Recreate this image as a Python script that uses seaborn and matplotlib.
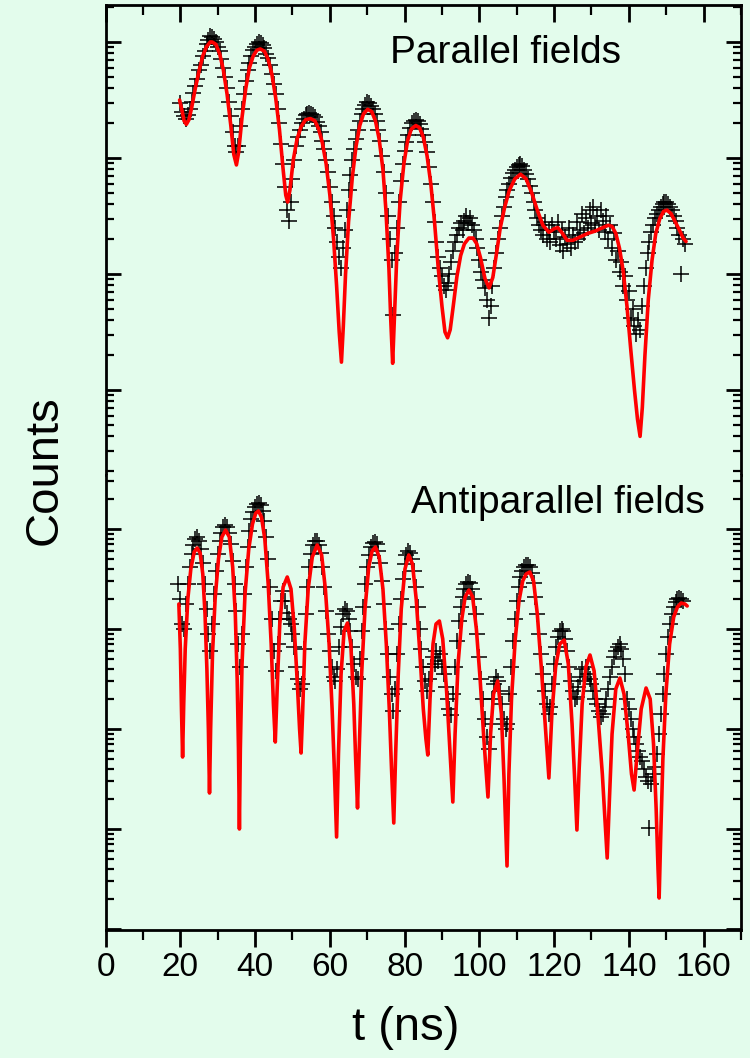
import numpy as np
import pandas as pd
import matplotlib
matplotlib.use("Agg")
import matplotlib.pyplot as plt
import seaborn as sns
from matplotlib.ticker import LogLocator, NullFormatter, MultipleLocator

# ---------------- data (log10 of counts) ----------------
# Parallel fields: measured points, channel start / spacing (ns)
par_t_start = 20.0
par_t_step = 0.5
par_log = [
    3.47, 3.40, 3.36, 3.34, 3.37, 3.42, 3.48, 3.56, 3.62, 3.68,
    3.76, 3.80, 3.88, 3.92, 3.98, 4.02, 4.05, 4.04, 4.03, 4.00,
    3.96, 3.92, 3.85, 3.78, 3.70, 3.60, 3.48, 3.36, 3.22, 3.10,
    3.05, 3.10, 3.28, 3.42, 3.55, 3.66, 3.76, 3.82, 3.88, 3.93,
    3.96, 3.98, 4.00, 3.99, 3.97, 3.95, 3.90, 3.86, 3.80, 3.72,
    3.64, 3.55, 3.42, 3.30, 3.12, 2.95, 2.75, 2.55, 2.46, 2.62,
    2.82, 2.98, 3.10, 3.18, 3.24, 3.30, 3.34, 3.37, 3.38, 3.39,
    3.38, 3.37, 3.35, 3.31, 3.28, 3.22, 3.15, 3.08, 2.98, 2.88,
    2.75, 2.62, 2.50, 2.40, 2.28, 2.15, 2.05, 2.22, 2.38, 2.55,
    2.72, 2.85, 2.98, 3.08, 3.16, 3.24, 3.32, 3.38, 3.42, 3.46,
    3.48, 3.47, 3.45, 3.42, 3.38, 3.32, 3.24, 3.15, 3.02, 2.88,
    2.70, 2.50, 2.30, 2.12, 1.65, 2.18, 2.40, 2.62, 2.80, 2.95,
    3.06, 3.14, 3.20, 3.26, 3.30, 3.32, 3.33, 3.32, 3.29, 3.25,
    3.20, 3.14, 3.05, 2.92, 2.78, 2.62, 2.45, 2.28, 2.15, 2.05,
    1.98, 1.90, 1.86, 1.92, 2.00, 2.10, 2.20, 2.28, 2.34, 2.40,
    2.44, 2.38, 2.46, 2.50, 2.44, 2.48, 2.42, 2.38, 2.30, 2.22,
    2.12, 2.02, 1.95, 1.88, 1.78, 1.62, 1.72, 1.90, 2.05, 2.18,
    2.30, 2.40, 2.50, 2.58, 2.66, 2.72, 2.78, 2.83, 2.87, 2.90,
    2.92, 2.94, 2.95, 2.93, 2.90, 2.86, 2.82, 2.76, 2.70, 2.62,
    2.55, 2.48, 2.42, 2.38, 2.34, 2.45, 2.30, 2.38, 2.28, 2.42,
    2.36, 2.30, 2.45, 2.25, 2.38, 2.20, 2.32, 2.26, 2.40, 2.22,
    2.34, 2.28, 2.45, 2.30, 2.38, 2.52, 2.35, 2.48, 2.40, 2.55,
    2.44, 2.58, 2.42, 2.50, 2.38, 2.55, 2.46, 2.36, 2.50, 2.30,
    2.42, 2.22, 2.35, 2.12, 2.20, 2.02, 2.10, 1.90, 1.98, 1.78,
    1.85, 1.62, 1.70, 1.55, 1.48, 1.60, 1.52, 1.72, 1.90, 2.05,
    2.18, 2.28, 2.36, 2.42, 2.48, 2.52, 2.55, 2.58, 2.60, 2.62,
    2.62, 2.60, 2.58, 2.55, 2.50, 2.46, 2.40, 2.34, 2.00, 2.30,
    2.26,
]

# Parallel fields: fitted curve
par_fit_t = [
    19.8, 20.5, 21.0, 21.6, 22.3, 23.0, 24.0, 25.0, 26.0, 27.0, 28.0, 28.5,
    29.5, 30.5, 31.5, 32.5, 33.5, 34.3, 35.0, 35.6, 36.5, 37.5, 38.5, 39.5,
    40.5, 41.4, 42.5, 43.5, 44.5, 45.5, 46.5, 47.5, 48.2, 48.7, 49.3, 50.2,
    51.2, 52.3, 53.5, 54.8, 56.0, 57.0, 58.0, 59.0, 60.0, 61.0, 61.8, 62.5,
    63.1, 63.6, 64.2, 65.0, 66.0, 67.0, 68.0, 69.0, 70.1, 71.2, 72.2, 73.2,
    74.2, 75.0, 75.8, 76.3, 76.8, 77.3, 77.9, 78.8, 79.8, 80.8, 81.8, 83.0,
    84.0, 85.0, 86.0, 87.0, 88.0, 89.0, 90.0, 90.8, 91.5, 92.2, 93.0, 94.0,
    95.0, 96.0, 97.2, 98.3, 99.3, 100.3, 101.5, 102.6, 103.6, 104.6, 105.6,
    106.8, 108.0, 109.5, 111.0, 112.5, 114.0, 115.5, 117.0, 118.6, 120.0,
    121.0, 122.0, 123.5, 125.0, 127.0, 129.0, 131.0, 133.0, 134.5, 135.5,
    136.5, 137.5, 138.5, 139.5, 140.5, 141.5, 142.3, 143.0, 143.6, 144.3,
    145.2, 146.2, 147.2, 148.3, 149.3, 150.2, 151.3, 152.4, 153.5, 154.5,
    155.3,
]
par_fit_log = [
    3.50, 3.40, 3.32, 3.29, 3.33, 3.43, 3.60, 3.75, 3.88, 3.96, 4.00, 4.00,
    3.98, 3.90, 3.76, 3.55, 3.28, 3.03, 2.94, 3.05, 3.35, 3.60, 3.78, 3.88,
    3.93, 3.94, 3.92, 3.85, 3.72, 3.52, 3.25, 2.90, 2.68, 2.62, 2.72, 2.98,
    3.16, 3.27, 3.33, 3.34, 3.32, 3.25, 3.13, 2.95, 2.68, 2.30, 1.90, 1.50,
    1.24, 1.55, 2.00, 2.45, 2.83, 3.10, 3.28, 3.38, 3.42, 3.40, 3.32, 3.16,
    2.90, 2.55, 2.05, 1.60, 1.23, 1.65, 2.15, 2.63, 2.95, 3.15, 3.25, 3.28,
    3.26, 3.18, 3.02, 2.78, 2.45, 2.05, 1.72, 1.50, 1.45, 1.52, 1.72, 1.98,
    2.16, 2.26, 2.31, 2.31, 2.26, 2.14, 1.96, 1.88, 1.97, 2.18, 2.40,
    2.58, 2.72, 2.82, 2.86, 2.82, 2.70, 2.55, 2.42, 2.36, 2.39,
    2.40, 2.36, 2.29, 2.29, 2.32, 2.35, 2.37, 2.40, 2.42, 2.41,
    2.35, 2.22, 2.02, 1.72, 1.35, 1.00, 0.75, 0.60, 0.85, 1.30,
    1.78, 2.12, 2.35, 2.48, 2.54, 2.55, 2.52, 2.45, 2.38, 2.31,
    2.28,
]

# Antiparallel fields: measured points
anti_t_start = 19.5
anti_t_step = 0.5
anti_log = [
    3.45, 3.30, 3.05, 3.00, 3.25, 3.45, 3.62, 3.75, 3.84, 3.90,
    3.92, 3.88, 3.80, 3.66, 3.45, 3.20, 2.95, 2.78, 3.05, 3.35,
    3.58, 3.75, 3.88, 3.96, 4.02, 4.04, 4.02, 3.96, 3.85, 3.68,
    3.45, 3.18, 2.85, 2.62, 2.95, 3.35, 3.62, 3.82, 3.98, 4.10,
    4.17, 4.22, 4.25, 4.26, 4.24, 4.18, 4.08, 3.92, 3.70, 3.42,
    3.10, 2.78, 2.58, 2.85, 3.10, 3.28, 3.38, 3.28, 3.16, 3.10,
    3.05, 2.95, 2.82, 2.62, 2.50, 2.40, 2.45, 2.80, 3.15, 3.42,
    3.62, 3.75, 3.84, 3.88, 3.88, 3.84, 3.76, 3.62, 3.42, 3.18,
    2.95, 2.78, 2.62, 2.52, 2.48, 2.60, 2.82, 3.02, 3.15, 3.20,
    3.18, 3.10, 2.98, 2.82, 2.65, 2.52, 2.50, 2.70, 2.98, 3.22,
    3.45, 3.62, 3.74, 3.82, 3.86, 3.87, 3.85, 3.78, 3.66, 3.48,
    3.25, 3.00, 2.75, 2.52, 2.35, 2.18, 2.40, 2.75, 3.05, 3.30,
    3.50, 3.65, 3.74, 3.78, 3.76, 3.70, 3.58, 3.42, 3.22, 3.00,
    2.80, 2.62, 2.48, 2.38, 2.50, 2.62, 2.72, 2.65, 2.78, 2.68,
    2.75, 2.62, 2.55, 2.42, 2.30, 2.20, 2.14, 2.35, 2.62, 2.88,
    3.08, 3.22, 3.32, 3.40, 3.45, 3.47, 3.46, 3.40, 3.30, 3.15,
    2.95, 2.72, 2.50, 2.30, 2.10, 1.92, 1.80, 2.05, 2.30, 2.45,
    2.52, 2.48, 2.38, 2.25, 2.10, 2.00, 2.05, 2.35, 2.62, 2.88,
    3.10, 3.28, 3.42, 3.52, 3.58, 3.62, 3.64, 3.64, 3.62, 3.56,
    3.46, 3.32, 3.15, 2.95, 2.75, 2.55, 2.38, 2.25, 2.15, 2.22,
    2.45, 2.65, 2.82, 2.92, 2.98, 3.00, 2.98, 2.90, 2.78, 2.62,
    2.48, 2.38, 2.30, 2.32, 2.42, 2.52, 2.60, 2.48, 2.62, 2.55,
    2.50, 2.45, 2.38, 2.30, 2.25, 2.18, 2.12, 2.15, 2.22, 2.30,
    2.40, 2.52, 2.62, 2.72, 2.78, 2.82, 2.85, 2.80, 2.70, 2.55,
    2.30, 2.20, 2.10, 2.00, 1.92, 1.85, 1.78, 1.72, 1.68, 1.60,
    1.52, 1.48, 1.01, 1.45, 1.55, 1.62, 1.75, 1.95, 2.15, 2.35,
    2.55, 2.75, 2.92, 3.05, 3.15, 3.22, 3.27, 3.30, 3.31, 3.30,
    3.28,
]

# Antiparallel fields: fitted curve
anti_fit_t = [
    19.6, 20.0, 20.3, 20.6, 20.9, 21.3, 22.0, 22.8, 23.7, 24.5, 25.3, 26.0,
    26.6, 27.1, 27.5, 27.8, 28.1, 28.6, 29.3, 30.2, 31.1, 32.1, 33.1, 34.0,
    34.7, 35.2, 35.55, 35.8, 36.05, 36.5, 37.3, 38.3, 39.3, 40.2, 40.9, 41.7,
    42.6, 43.5, 44.3, 44.9, 45.4, 45.9, 46.6, 47.5, 48.6, 49.6, 50.5, 51.3,
    51.9, 52.3, 52.7, 53.3, 54.2, 55.3, 56.6, 57.8, 58.8, 59.8, 60.6, 61.2,
    61.8, 62.3, 63.0, 63.8, 64.7, 65.6, 66.4, 66.9, 67.4, 67.9, 68.5, 69.4,
    70.4, 71.3, 72.2, 73.2, 74.2, 75.1, 75.9, 76.5, 77.1, 77.6, 78.3, 79.1,
    80.1, 81.1, 82.1, 83.1, 84.1, 85.0, 85.7, 86.2, 86.8, 87.6, 88.4, 89.3,
    90.2, 91.2, 92.1, 92.9, 93.5, 94.3, 95.3, 96.2, 97.2, 98.2, 99.2, 100.2,
    101.2, 102.3, 103.0, 103.8, 104.9, 105.9, 106.6, 107.4, 107.9, 108.6,
    109.6, 110.6, 111.6, 112.5, 113.5, 114.5, 115.5, 116.6, 117.7, 118.6,
    119.4, 120.4, 121.5, 122.7, 123.8, 124.8, 125.5, 126.1, 126.7, 127.5,
    128.5, 129.6, 130.7, 131.8, 132.9, 133.6, 134.2, 134.8, 135.5, 136.5,
    137.6, 138.7, 139.8, 140.7, 141.4, 142.2, 143.3, 144.6, 145.7, 146.6,
    147.3, 147.8, 148.1, 148.5, 149.1, 149.9, 150.9, 152.0, 153.0, 154.0,
    155.0, 155.6,
]
anti_fit_log = [
    3.25, 2.80, 2.20, 1.72, 2.25, 2.80, 3.30, 3.60, 3.77, 3.81, 3.76, 3.55,
    3.15, 2.60, 2.00, 1.36, 2.00, 2.75, 3.30, 3.70, 3.92, 3.99, 3.92, 3.62,
    3.15, 2.50, 1.80, 1.00, 1.80, 2.65, 3.35, 3.80, 4.05, 4.16, 4.18, 4.12,
    3.90, 3.45, 2.85, 2.25, 1.87, 2.40, 3.05, 3.42, 3.52, 3.40, 3.00, 2.45,
    2.00, 1.76, 2.15, 2.85, 3.40, 3.72, 3.84, 3.74, 3.40, 2.85, 2.20, 1.60,
    0.92, 1.75, 2.55, 2.98, 3.06, 2.85, 2.25, 1.70, 1.21, 1.85, 2.55, 3.20,
    3.62, 3.78, 3.82, 3.72, 3.40, 2.85, 2.20, 1.60, 1.06, 1.75, 2.55, 3.20,
    3.60, 3.74, 3.65, 3.30, 2.75, 2.20, 1.90, 1.74, 2.30, 2.85, 3.05, 3.08,
    2.90, 2.40, 1.80, 1.27, 1.95, 2.65, 3.10, 3.32, 3.39, 3.32, 3.00, 2.50,
    1.90, 1.32, 1.95, 2.35, 2.48, 2.15, 1.50, 0.63, 1.55, 2.30,
    2.90, 3.28, 3.48, 3.55, 3.57, 3.48, 3.15, 2.60, 2.00, 1.51,
    2.15, 2.62, 2.85, 2.89, 2.65, 2.05, 1.50, 0.99, 1.60, 2.25,
    2.62, 2.74, 2.58, 2.10, 1.55, 1.10, 0.71, 1.30, 1.95, 2.40,
    2.51, 2.35, 1.95, 1.55, 1.39, 1.75, 2.20, 2.41, 2.30, 1.85,
    1.20, 0.60, 0.31, 0.90, 1.70, 2.35, 2.85, 3.12, 3.22, 3.26,
    3.25, 3.23,
]

x_ticks_major = [0, 20, 40, 60, 80, 100, 120, 140, 160]
x_label = "t (ns)"
y_label = "Counts"
label_top = "Parallel fields"
label_bottom = "Antiparallel fields"

# ---------------- build tables ----------------
par_df = pd.DataFrame({
    "t": par_t_start + par_t_step * np.arange(len(par_log)),
    "counts": 10 ** np.array(par_log),
})
par_fit_df = pd.DataFrame({"t": par_fit_t, "counts": 10 ** np.array(par_fit_log)})
anti_df = pd.DataFrame({
    "t": anti_t_start + anti_t_step * np.arange(len(anti_log)),
    "counts": 10 ** np.array(anti_log),
})
anti_fit_df = pd.DataFrame({"t": anti_fit_t, "counts": 10 ** np.array(anti_fit_log)})

# ---------------- style ----------------
sns.set_theme(style="ticks")
plt.rcParams["font.family"] = ["Liberation Sans", "DejaVu Sans"]
bg = "#e3fcec"

W, H = 750, 1058
fig = plt.figure(figsize=(W / 100, H / 100), dpi=100, facecolor=bg)

left, right = 105.6 / W, 741 / W
y_top, y_mid, y_bot = 5, 475, 930
ax_top = fig.add_axes([left, 1 - y_mid / H, right - left, (y_mid - y_top) / H])
ax_bot = fig.add_axes([left, 1 - y_bot / H, right - left, (y_bot - y_mid) / H])

for ax, dat, fit in ((ax_top, par_df, par_fit_df), (ax_bot, anti_df, anti_fit_df)):
    ax.set_facecolor(bg)
    sns.scatterplot(data=dat, x="t", y="counts", ax=ax, marker="+", s=130,
                    color="black", linewidth=1.1, zorder=2, legend=False)
    sns.lineplot(data=fit, x="t", y="counts", ax=ax, color="#ff0000", lw=2.6,
                 sort=False, estimator=None, zorder=3, legend=False)
    ax.set_yscale("log")
    ax.set_xlim(0, 170)
    ax.xaxis.set_major_locator(MultipleLocator(20))
    ax.xaxis.set_minor_locator(MultipleLocator(10))
    ax.yaxis.set_major_locator(LogLocator(base=10, numticks=30))
    ax.yaxis.set_minor_locator(LogLocator(base=10, subs=np.arange(2, 10), numticks=30))
    ax.yaxis.set_major_formatter(NullFormatter())
    ax.yaxis.set_minor_formatter(NullFormatter())
    ax.set_xlabel("")
    ax.set_ylabel("")
    for s in ax.spines.values():
        s.set_linewidth(2.0)
        s.set_color("black")
    ax.tick_params(axis="y", which="both", direction="in", left=True, right=True,
                   labelleft=False, labelright=False, color="black")
    ax.tick_params(axis="y", which="major", length=11, width=2.0)
    ax.tick_params(axis="y", which="minor", length=6, width=1.6)

ax_top.set_ylim(10 ** 0.267, 10 ** 4.319)
ax_bot.set_ylim(10 ** -0.01, 10 ** 4.54)

ax_top.spines["bottom"].set_visible(False)
ax_bot.spines["top"].set_visible(False)

ax_top.tick_params(axis="x", which="both", direction="in", top=True, bottom=False,
                   labeltop=False, labelbottom=False, color="black")
ax_top.tick_params(axis="x", which="major", length=12, width=2.0)
ax_top.tick_params(axis="x", which="minor", length=7, width=1.6)

ax_bot.set_xticks(x_ticks_major)
ax_bot.set_xticklabels([str(v) for v in x_ticks_major])
ax_bot.tick_params(axis="x", which="both", direction="out", top=False, bottom=True,
                   labelbottom=True, color="black", labelcolor="black")
ax_bot.tick_params(axis="x", which="major", length=12, width=2.0, pad=4, labelsize=24)
ax_bot.tick_params(axis="x", which="minor", length=7, width=1.6)

ax_top.text(76.2, 10 ** 3.905, label_top, fontsize=28, color="black",
            ha="left", va="center")
ax_bot.text(81.6, 10 ** 4.26, label_bottom, fontsize=28, color="black",
            ha="left", va="center")

fig.text(45 / W, 1 - 470 / H, y_label, rotation=90, fontsize=34,
         ha="center", va="center", color="black")
fig.text(406 / W, 1 - 1028 / H, x_label, fontsize=34,
         ha="center", va="center", color="black")

fig.savefig("out.png", dpi=100, facecolor=bg)
